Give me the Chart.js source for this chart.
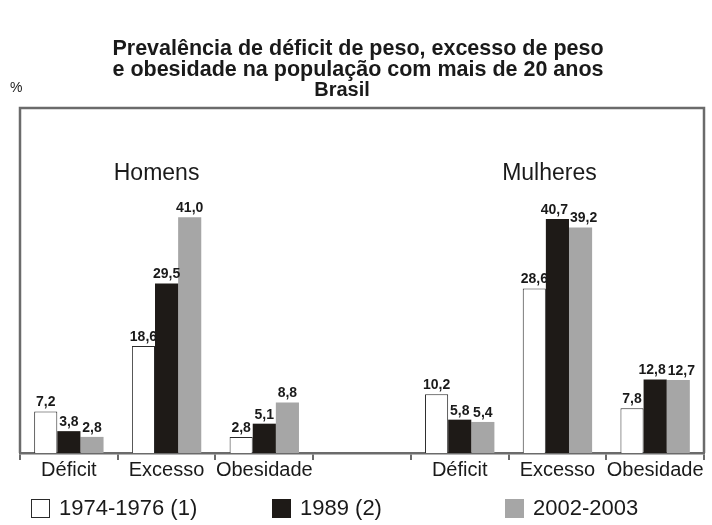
<!DOCTYPE html>
<html>
<head>
<meta charset="utf-8">
<script src="https://cdn.jsdelivr.net/npm/chart.js@4/dist/chart.umd.min.js"></script>
<style>
  html, body { margin: 0; padding: 0; background: #ffffff; }
  #wrap { width: 712px; height: 525px; }
</style>
</head>
<body>
<div id="wrap"><canvas id="c" width="712" height="525"></canvas></div>
<script>
const titleLines = ['Prevalência de déficit de peso, excesso de peso', 'e obesidade na população com mais de 20 anos'];
const subtitle = 'Brasil';
const unitLabel = '%';
const groups = ['Homens', 'Mulheres'];
const categories = ['Déficit', 'Excesso', 'Obesidade', '', 'Déficit', 'Excesso', 'Obesidade'];
const seriesNames = ['1974-1976 (1)', '1989 (2)', '2002-2003'];
const values1974 = [7.2, 18.6, 2.8, null, 10.2, 28.6, 7.8];
const values1989 = [3.8, 29.5, 5.1, null, 5.8, 40.7, 12.8];
const values2002 = [2.8, 41.0, 8.8, null, 5.4, 39.2, 12.7];

const FONT = "'Liberation Sans', Arial, Helvetica, sans-serif";
const fills = ['#ffffff', '#1e1a17', '#a6a6a6'];
const borders = ['#2a2a2a', '#1e1a17', '#a6a6a6'];
const frameColor = '#6b6b6b';

const decorPlugin = {
  id: 'decor',
  afterDraw(chart) {
    const ctx = chart.ctx;
    const a = chart.chartArea;
    const x = chart.scales.x;
    ctx.save();
    // frame (left, top, right)
    ctx.strokeStyle = frameColor;
    ctx.lineWidth = 2.5;
    ctx.beginPath();
    ctx.moveTo(a.left, a.bottom);
    ctx.lineTo(a.left, a.top);
    ctx.lineTo(a.right, a.top);
    ctx.lineTo(a.right, a.bottom);
    ctx.stroke();

    ctx.fillStyle = '#1a1a1a';
    ctx.textAlign = 'center';
    ctx.textBaseline = 'alphabetic';
    // title
    ctx.font = 'bold 21.5px ' + FONT;
    ctx.fillText(titleLines[0], 358, 55);
    ctx.fillText(titleLines[1], 358, 76);
    // subtitle
    ctx.font = 'bold 20px ' + FONT;
    ctx.fillText(subtitle, 342, 96);
    // unit
    ctx.font = '14px ' + FONT;
    ctx.textAlign = 'left';
    ctx.fillText(unitLabel, 10, 92);
    // group labels
    ctx.textAlign = 'center';
    ctx.font = '23px ' + FONT;
    ctx.fillText(groups[0], x.getPixelForValue(1) - 10, 180);
    ctx.fillText(groups[1], x.getPixelForValue(5) - 8, 180);

    // value labels (with small shifts when neighbours collide)
    ctx.font = 'bold 14px ' + FONT;
    ctx.textBaseline = 'bottom';
    const nSets = chart.data.datasets.length;
    for (let j = 0; j < categories.length; j++) {
      const items = [];
      for (let i = 0; i < nSets; i++) {
        const v = chart.data.datasets[i].data[j];
        if (v === null || v === undefined) continue;
        const bar = chart.getDatasetMeta(i).data[j];
        const txt = v.toFixed(1).replace('.', ',');
        items.push({ txt, x: bar.x, y: bar.y - 2, w: ctx.measureText(txt).width });
      }
      for (let k = 1; k < items.length; k++) {
        const p = items[k - 1], q = items[k];
        if (Math.abs(p.y - q.y) < 15) {
          const overlap = (p.x + p.w / 2 + 2) - (q.x - q.w / 2);
          if (overlap > 0) { p.x -= overlap / 2; q.x += overlap / 2; }
        }
      }
      items.forEach(it => ctx.fillText(it.txt, it.x, it.y));
    }

    // legend
    const legX = [31, 272, 505];
    const legY = 499;
    ctx.textBaseline = 'middle';
    ctx.textAlign = 'left';
    ctx.font = '22px ' + FONT;
    seriesNames.forEach((name, i) => {
      ctx.fillStyle = fills[i];
      ctx.fillRect(legX[i], legY, 19, 19);
      if (i === 0) {
        ctx.strokeStyle = '#2a2a2a';
        ctx.lineWidth = 1;
        ctx.strokeRect(legX[i] + 0.5, legY + 0.5, 18, 18);
      }
      ctx.fillStyle = '#1a1a1a';
      ctx.fillText(name, legX[i] + 28, legY + 10);
    });
    ctx.restore();
  }
};

const datasets = [values1974, values1989, values2002].map((vals, i) => ({
  label: seriesNames[i],
  data: vals,
  backgroundColor: fills[i],
  borderColor: borders[i],
  borderWidth: i === 0 ? 1 : 0,
  barPercentage: 1.0,
  categoryPercentage: 0.71
}));

new Chart(document.getElementById('c'), {
  type: 'bar',
  data: { labels: categories, datasets: datasets },
  options: {
    responsive: false,
    animation: false,
    devicePixelRatio: 1,
    layout: { padding: { left: 20, right: 8, top: 108, bottom: 45 } },
    plugins: { legend: { display: false }, title: { display: false }, tooltip: { enabled: false } },
    scales: {
      x: {
        offset: true,
        grid: { display: true, drawOnChartArea: false, drawTicks: true, tickLength: 7, color: frameColor, lineWidth: 2, offset: true },
        border: { display: true, color: frameColor, width: 2.5 },
        ticks: { color: '#1a1a1a', font: { family: FONT, size: 20 }, padding: -2, maxRotation: 0, autoSkip: false }
      },
      y: {
        display: false,
        min: 0,
        max: 60
      }
    }
  },
  plugins: [decorPlugin]
});
</script>
</body>
</html>
